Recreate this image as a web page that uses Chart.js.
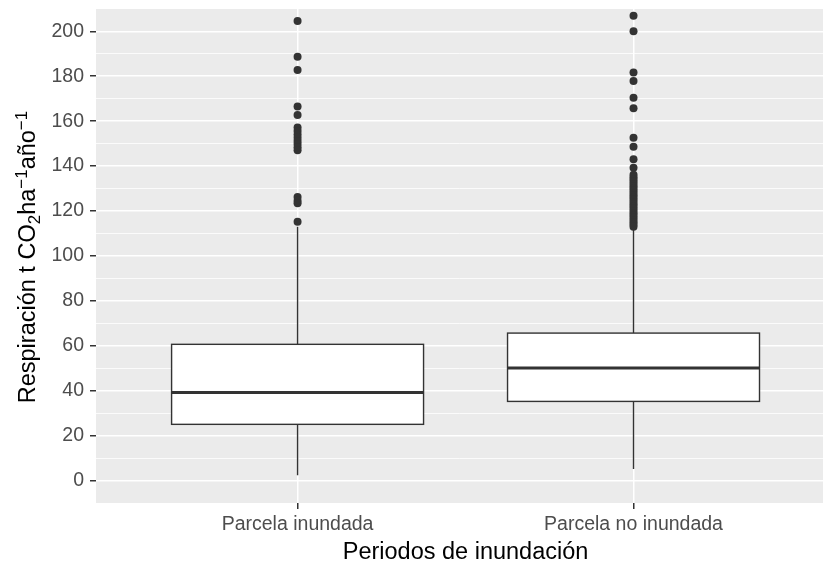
<!DOCTYPE html>
<html>
<head>
<meta charset="utf-8">
<script src="https://cdn.jsdelivr.net/npm/chart.js@4"></script>
<style>
  html, body { margin: 0; padding: 0; background: #ffffff; }
  canvas { display: block; }
</style>
</head>
<body>
<canvas id="c" width="823" height="565"></canvas>
<script>
// ---- Data ----
const categories = ["Parcela inundada", "Parcela no inundada"];
const whiskerLow  = [2.5, 5.2];
const q1          = [25.1, 35.3];
const median      = [39.3, 50.2];
const q3          = [60.7, 65.7];
const whiskerHigh = [113, 112];
const outliers1 = [204.6, 188.7, 182.8, 166.5, 162.7, 157.2, 155.6, 154.1, 152.6, 151.2, 149.8, 148.4, 147.0, 126.3, 124.6, 123.5, 115.2];
const outliers2 = [206.9, 200.0, 181.6, 177.9, 170.4, 165.7, 152.6, 148.6, 143.0, 139.3,
                   136.2, 135.0, 134.0, 133.0, 132.0, 131.0, 130.0, 129.0, 128.0, 127.0, 126.0, 125.0,
                   124.0, 123.0, 122.0, 121.0, 120.0, 119.0, 118.0, 117.0, 116.0, 115.0, 114.0, 113.0];
const yTickValues = [0, 20, 40, 60, 80, 100, 120, 140, 160, 180, 200];
const yMinorValues = [10, 30, 50, 70, 90, 110, 130, 150, 170, 190, 210];

const xTitle = "Periodos de inundación";
const yTitleParts = [
  { t: "Respiración t CO", k: "n" },
  { t: "2", k: "sub" },
  { t: "ha", k: "n" },
  { t: "\u22121", k: "sup" },
  { t: "año", k: "n" },
  { t: "\u22121", k: "sup" }
];

// ---- Build outlier points ----
const outlierLists = [outliers1, outliers2];
const outlierPoints = [];
outlierLists.forEach((list, i) => list.forEach(v => outlierPoints.push({ x: i + 1, y: v })));

const FONT = "'Liberation Sans', Arial, sans-serif";
const DARK = "#333333";

const panelBg = {
  id: "panelBg",
  beforeDraw(chart) {
    const { ctx, chartArea: a } = chart;
    ctx.save();
    ctx.fillStyle = "#EBEBEB";
    ctx.fillRect(a.left, a.top, a.right - a.left, a.bottom - a.top);
    ctx.restore();
  }
};

const boxPlot = {
  id: "boxPlot",
  beforeDatasetsDraw(chart) {
    const { ctx, scales: { x, y } } = chart;
    const half = 0.375;
    ctx.save();
    categories.forEach((c, i) => {
      const cx = x.getPixelForValue(i + 1);
      const xl = x.getPixelForValue(i + 1 - half);
      const xr = x.getPixelForValue(i + 1 + half);
      const yq1 = y.getPixelForValue(q1[i]);
      const yq3 = y.getPixelForValue(q3[i]);
      const ymed = y.getPixelForValue(median[i]);
      const ylo = y.getPixelForValue(whiskerLow[i]);
      const yhi = y.getPixelForValue(whiskerHigh[i]);
      ctx.strokeStyle = DARK;
      ctx.lineWidth = 1.4;
      ctx.beginPath();
      ctx.moveTo(cx, yq1); ctx.lineTo(cx, ylo);
      ctx.moveTo(cx, yq3); ctx.lineTo(cx, yhi);
      ctx.stroke();
      ctx.fillStyle = "#FFFFFF";
      ctx.fillRect(xl, yq3, xr - xl, yq1 - yq3);
      ctx.strokeRect(xl, yq3, xr - xl, yq1 - yq3);
      ctx.lineWidth = 3;
      ctx.beginPath();
      ctx.moveTo(xl, ymed); ctx.lineTo(xr, ymed);
      ctx.stroke();
    });
    ctx.restore();
  }
};

const titles = {
  id: "titles",
  afterDraw(chart) {
    const { ctx, chartArea: a, scales: { x } } = chart;
    ctx.save();
    ctx.fillStyle = "#000000";
    ctx.font = "23.5px " + FONT;
    ctx.textAlign = "center";
    ctx.textBaseline = "alphabetic";
    const xc = (x.getPixelForValue(0.4) + x.getPixelForValue(2.6)) / 2;
    ctx.fillText(xTitle, xc, 559);

    const big = 23.5, small = 17;
    const fontFor = k => (k === "n" ? big : small) + "px " + FONT;
    let total = 0;
    yTitleParts.forEach(p => { ctx.font = fontFor(p.k); total += ctx.measureText(p.t).width; });
    const cy = (a.top + a.bottom) / 2 + 1;
    ctx.translate(35, cy);
    ctx.rotate(-Math.PI / 2);
    ctx.textAlign = "left";
    let pos = -total / 2;
    yTitleParts.forEach(p => {
      ctx.font = fontFor(p.k);
      const dy = p.k === "sub" ? 5 : (p.k === "sup" ? -8 : 0);
      ctx.fillText(p.t, pos, dy);
      pos += ctx.measureText(p.t).width;
    });
    ctx.restore();
  }
};

new Chart(document.getElementById("c"), {
  type: "scatter",
  data: {
    datasets: [{
      data: outlierPoints,
      pointRadius: 4,
      pointHoverRadius: 4,
      backgroundColor: DARK,
      borderWidth: 0,
      clip: false
    }]
  },
  options: {
    responsive: false,
    devicePixelRatio: 1,
    animation: false,
    events: [],
    layout: { autoPadding: false, padding: { top: 9, right: 0, left: 0, bottom: 0 } },
    plugins: { legend: { display: false }, tooltip: { enabled: false } },
    scales: {
      x: {
        type: "linear",
        min: 0.4,
        max: 2.564,
        afterBuildTicks: s => { s.ticks = categories.map((c, i) => ({ value: i + 1 })); },
        afterFit: s => { s.height = 62; s.paddingLeft = 0; s.paddingRight = 0; },
        border: { display: false },
        grid: { color: "#FFFFFF", lineWidth: 1.5, tickColor: DARK, tickLength: 6, drawTicks: true },
        ticks: {
          autoSkip: false,
          maxRotation: 0,
          padding: 4,
          color: "#4D4D4D",
          font: { family: FONT, size: 19.5 },
          callback: v => categories[Math.round(v) - 1]
        }
      },
      y: {
        type: "linear",
        min: -9.9,
        max: 209.9,
        afterBuildTicks: s => {
          s.ticks = yTickValues.concat(yMinorValues).sort((a, b) => a - b).map(v => ({ value: v }));
        },
        afterFit: s => { s.width = 96; s.paddingTop = 0; s.paddingBottom = 0; },
        border: { display: false },
        grid: {
          color: "#FFFFFF",
          lineWidth: ctx => (yTickValues.includes(ctx.tick && ctx.tick.value) ? 1.5 : 0.8),
          tickColor: ctx => (yTickValues.includes(ctx.tick && ctx.tick.value) ? DARK : "rgba(0,0,0,0)"),
          tickLength: 6
        },
        ticks: {
          autoSkip: false,
          padding: 6,
          color: "#4D4D4D",
          font: { family: FONT, size: 19.5 },
          callback: v => (yTickValues.includes(v) ? String(v) : "")
        }
      }
    }
  },
  plugins: [panelBg, boxPlot, titles]
});
</script>
</body>
</html>
